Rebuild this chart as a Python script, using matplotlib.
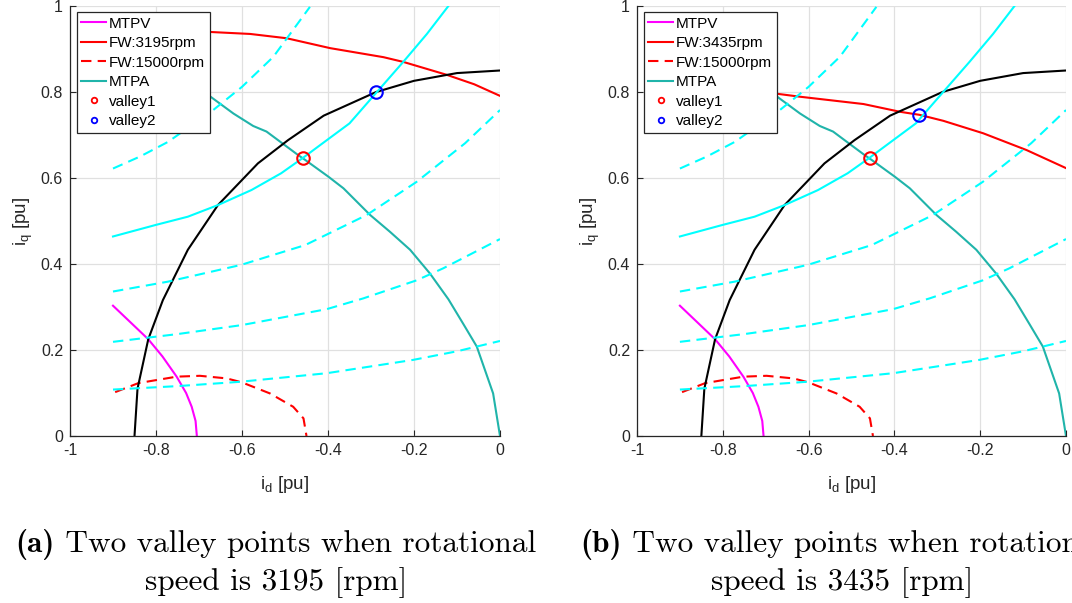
import matplotlib
matplotlib.use("Agg")
import matplotlib.pyplot as plt
from matplotlib.lines import Line2D

plt.rcParams["font.family"] = ["Liberation Sans", "DejaVu Sans"]
plt.rcParams["mathtext.default"] = "regular"

# ── data (i_d, i_q in pu) ────────────────────────────────────────────────────
mtpv_d = [-0.90, -0.86, -0.818, -0.785, -0.752, -0.730, -0.717, -0.708, -0.705]
mtpv_q = [0.303, 0.265, 0.225, 0.185, 0.138, 0.100, 0.068, 0.035, 0.0]

fw15k_d = [-0.895, -0.841, -0.752, -0.698, -0.636, -0.601, -0.535, -0.481, -0.457, -0.450]
fw15k_q = [0.102, 0.123, 0.138, 0.140, 0.134, 0.125, 0.099, 0.068, 0.041, 0.0]

mtpa_d = [-0.75, -0.684, -0.620, -0.574, -0.543, -0.469, -0.453, -0.399, -0.364,
          -0.302, -0.256, -0.209, -0.163, -0.120, -0.085, -0.054, -0.016, 0.0]
mtpa_q = [0.840, 0.797, 0.750, 0.721, 0.708, 0.653, 0.642, 0.603, 0.576,
          0.514, 0.475, 0.433, 0.378, 0.318, 0.260, 0.208, 0.099, 0.0]

# current limit
lim_d = [-0.850, -0.843, -0.818, -0.784, -0.726, -0.656, -0.563, -0.493, -0.410,
         -0.288, -0.200, -0.100, 0.0]
lim_q = [0.0, 0.110, 0.225, 0.316, 0.433, 0.537, 0.634, 0.688, 0.745,
         0.800, 0.826, 0.844, 0.850]

# torque curves (solid one passes both valleys)
trq_d = [-0.90, -0.80, -0.726, -0.656, -0.578, -0.509, -0.458, -0.423, -0.350,
         -0.288, -0.225, -0.170, -0.120]
trq_q = [0.464, 0.491, 0.510, 0.537, 0.572, 0.611, 0.647, 0.673, 0.727,
         0.798, 0.870, 0.935, 1.0]

dash_a_d = [-0.90, -0.837, -0.772, -0.667, -0.600, -0.527, -0.442]
dash_a_q = [0.622, 0.650, 0.684, 0.758, 0.812, 0.882, 0.998]
dash_b_d = [-0.90, -0.772, -0.602, -0.453, -0.310, -0.194, -0.081, 0.0]
dash_b_q = [0.336, 0.359, 0.398, 0.444, 0.514, 0.591, 0.681, 0.758]
dash_c_d = [-0.90, -0.75, -0.60, -0.403, -0.318, -0.194, -0.132, 0.0]
dash_c_q = [0.219, 0.237, 0.258, 0.295, 0.320, 0.362, 0.390, 0.458]
dash_e_d = [-0.90, -0.75, -0.605, -0.403, -0.202, -0.100, 0.0]
dash_e_q = [0.108, 0.116, 0.126, 0.146, 0.177, 0.197, 0.221]

# field weakening curves, one per panel
fw_a_d = [-0.90, -0.682, -0.581, -0.496, -0.395, -0.271, -0.225, -0.124, -0.060, 0.0]
fw_a_q = [0.955, 0.940, 0.935, 0.925, 0.902, 0.881, 0.870, 0.840, 0.818, 0.791]
fw_b_d = [-0.90, -0.682, -0.620, -0.472, -0.387, -0.342, -0.286, -0.193, -0.092, 0.0]
fw_b_q = [0.820, 0.797, 0.789, 0.772, 0.754, 0.747, 0.733, 0.704, 0.665, 0.623]

valley1 = (-0.458, 0.647)
valley2_a = (-0.288, 0.800)
valley2_b = (-0.342, 0.747)

speeds = ["3195", "3435"]
tags = ["a", "b"]

xticks = [-1, -0.8, -0.6, -0.4, -0.2, 0]
xtick_labels = ["-1", "-0.8", "-0.6", "-0.4", "-0.2", "0"]
yticks = [0, 0.2, 0.4, 0.6, 0.8, 1]
ytick_labels = ["0", "0.2", "0.4", "0.6", "0.8", "1"]

MAG, RED, CYAN, TEAL, BLUE = "#ff00ff", "#ff0000", "#00ffff", "#20b4aa", "#0000ff"
DK = "#262626"
LW = 1.5
DASH = (5, 3)

fig = plt.figure(figsize=(10.72, 6.03), dpi=100)
ax_a = fig.add_axes([70 / 1072, 1 - 436 / 603, 430 / 1072, 430 / 603])
ax_b = fig.add_axes([637 / 1072, 1 - 436 / 603, 429 / 1072, 430 / 603])

panels = [(ax_a, fw_a_d, fw_a_q, valley2_a), (ax_b, fw_b_d, fw_b_q, valley2_b)]

for k, (ax, fwd, fwq, v2) in enumerate(panels):
    ax.plot(mtpv_d, mtpv_q, color=MAG, lw=LW)
    ax.plot(fwd, fwq, color=RED, lw=LW)
    ax.plot(fw15k_d, fw15k_q, color=RED, lw=LW, ls=(0, DASH))
    ax.plot(mtpa_d, mtpa_q, color=TEAL, lw=LW)
    ax.plot(lim_d, lim_q, color="black", lw=LW)
    ax.plot(trq_d, trq_q, color=CYAN, lw=LW)
    for dd, qq in [(dash_a_d, dash_a_q), (dash_b_d, dash_b_q),
                   (dash_c_d, dash_c_q), (dash_e_d, dash_e_q)]:
        ax.plot(dd, qq, color=CYAN, lw=LW, ls=(0, DASH))
    ax.plot(*valley1, "o", mfc="none", mec=RED, mew=1.5, ms=9)
    ax.plot(*v2, "o", mfc="none", mec=BLUE, mew=1.5, ms=9)

    ax.set_xlim(-1, 0)
    ax.set_ylim(0, 1)
    ax.set_xticks(xticks)
    ax.set_xticklabels(xtick_labels)
    ax.set_yticks(yticks)
    ax.set_yticklabels(ytick_labels)
    ax.tick_params(direction="in", length=4, width=0.8, colors=DK, labelsize=11.5, pad=5)
    ax.grid(True, color="#e0e0e0", lw=0.9)
    ax.set_axisbelow(True)
    for s in ["top", "right"]:
        ax.spines[s].set_visible(False)
    for s in ["left", "bottom"]:
        ax.spines[s].set_color(DK)
        ax.spines[s].set_linewidth(0.9)
        ax.spines[s].set_zorder(5)

    ax.set_xlabel("i$_d$ [pu]", fontsize=13.5, color=DK)
    ax.set_ylabel("i$_q$ [pu]", fontsize=13.5, color=DK)
    ax.xaxis.set_label_coords(0.5, -0.088)
    ax.yaxis.set_label_coords(-0.082, 0.5)

    handles = [
        Line2D([], [], color=MAG, lw=LW),
        Line2D([], [], color=RED, lw=LW),
        Line2D([], [], color=RED, lw=LW, ls=(0, DASH)),
        Line2D([], [], color=TEAL, lw=LW),
        Line2D([], [], ls="none", marker="o", mfc="none", mec=RED, mew=1.3, ms=4),
        Line2D([], [], ls="none", marker="o", mfc="none", mec=BLUE, mew=1.3, ms=4),
    ]
    labels = ["MTPV", "FW:%srpm" % speeds[k], "FW:15000rpm", "MTPA", "valley1", "valley2"]
    leg = ax.legend(handles, labels, loc="upper left", bbox_to_anchor=(0.016, 0.986),
                    fontsize=11, frameon=True, fancybox=False, framealpha=1,
                    edgecolor=DK, borderpad=0.3, labelspacing=0.36,
                    handlelength=1.6, handletextpad=0.2, borderaxespad=0)
    leg.get_frame().set_linewidth(0.9)

# ── captions: bold tag + roman text, centred together ───────────────────────
FS = 22.5
renderer = fig.canvas.get_renderer()
for cx, tag, sp in [(276, tags[0], speeds[0]), (842, tags[1], speeds[1])]:
    y1 = 1 - 552 / 603
    t1 = fig.text(0, y1, "(%s)" % tag, family="cmb10", fontsize=FS, va="baseline")
    t2 = fig.text(0, y1, " Two valley points when rotational", family="cmr10",
                  fontsize=FS, va="baseline")
    w1 = t1.get_window_extent(renderer).width
    w2 = t2.get_window_extent(renderer).width
    x0 = cx - (w1 + w2) / 2
    t1.set_x(x0 / 1072)
    t2.set_x((x0 + w1) / 1072)
    fig.text(cx / 1072, 1 - 590 / 603, "speed is %s [rpm]" % sp,
             family="cmr10", fontsize=FS, ha="center", va="baseline")

plt.savefig("out.png", dpi=100)
